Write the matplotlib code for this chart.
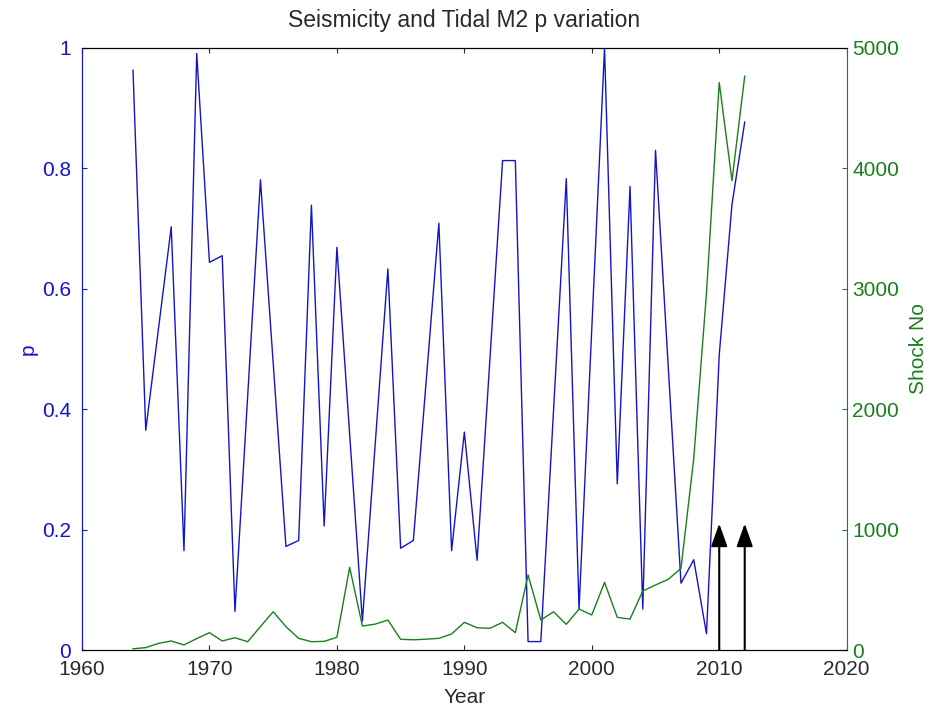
import matplotlib
matplotlib.use("Agg")
import matplotlib.pyplot as plt

plt.rcParams['font.family'] = ['Liberation Sans', 'DejaVu Sans']

# p values (blue), read at the line's corners
p_years = [1964, 1965, 1967, 1968, 1969, 1970, 1971, 1972, 1974, 1976, 1977,
           1978, 1979, 1980, 1982, 1984, 1985, 1986, 1988, 1989, 1990, 1991,
           1993, 1994, 1995, 1996, 1998, 1999, 2001, 2002, 2003, 2004, 2005,
           2007, 2008, 2009, 2010, 2011, 2012]
p_vals = [0.963, 0.365, 0.703, 0.165, 0.991, 0.644, 0.655, 0.064, 0.781, 0.172, 0.182,
          0.739, 0.206, 0.669, 0.048, 0.633, 0.169, 0.182, 0.709, 0.165, 0.362, 0.149,
          0.813, 0.813, 0.014, 0.014, 0.783, 0.068, 1.0, 0.276, 0.77, 0.068, 0.83,
          0.111, 0.15, 0.027, 0.49, 0.74, 0.877]

# yearly shock counts (green)
shock_years = list(range(1964, 2013))
shock_no = [10, 20, 55, 75, 42, 95, 144, 75, 102, 69, 195, 318, 194, 97, 69, 72, 105,
            687, 199, 215, 249, 89, 85, 90, 97, 133, 230, 185, 180, 230, 144, 623,
            249, 318, 213, 340, 291, 562, 271, 257, 490, 540, 587, 678, 1590, 2965,
            4713, 3898, 4766]

# arrows marking events
arrow_years = [2010, 2012]
arrow_top = 0.21

BLUE = '#1414c8'
GREEN = '#1a801a'
TXT = '#2a2a2a'
FS = 15

fig = plt.figure(figsize=(9.3, 7.09), dpi=100)
ax = fig.add_axes([0.0882, 0.0832, 0.8222, 0.8491])
ax2 = ax.twinx()

ax.plot(p_years, p_vals, color=BLUE, lw=1.0)
ax2.plot(shock_years, shock_no, color=GREEN, lw=1.0)

for yr in arrow_years:
    ax.annotate('', xy=(yr, arrow_top), xytext=(yr, 0),
                arrowprops=dict(arrowstyle='-|>,head_length=1.4,head_width=0.5',
                                color='k', lw=1.5, shrinkA=0, shrinkB=0))

ax.set_xlim(1960, 2020)
ax.set_ylim(0, 1)
ax2.set_ylim(0, 5000)
ax.set_xticks(range(1960, 2021, 10))
ax.set_yticks([0, 0.2, 0.4, 0.6, 0.8, 1])
ax.set_yticklabels(['0', '0.2', '0.4', '0.6', '0.8', '1'])
ax2.set_yticks(range(0, 5001, 1000))

ax.tick_params(axis='x', direction='in', top=True, labelsize=FS, colors=TXT, pad=7)
ax.tick_params(axis='y', direction='in', colors=BLUE, labelsize=FS, pad=8)
ax2.tick_params(axis='y', direction='in', colors=GREEN, labelsize=FS, pad=4)

ax.spines['left'].set_color(BLUE)
ax2.spines['left'].set_color(BLUE)
ax2.spines['right'].set_color(GREEN)
ax.spines['right'].set_visible(False)

ax.set_xlabel('Year', fontsize=FS, color=TXT, labelpad=7)
ax.set_ylabel('p', fontsize=FS, color=BLUE, labelpad=3)
ax2.set_ylabel('Shock No', fontsize=FS, color=GREEN, labelpad=7)
ax.set_title('Seismicity and Tidal M2 p variation', fontsize=16.5, color=TXT, pad=15)

fig.savefig('out.png', dpi=100)
